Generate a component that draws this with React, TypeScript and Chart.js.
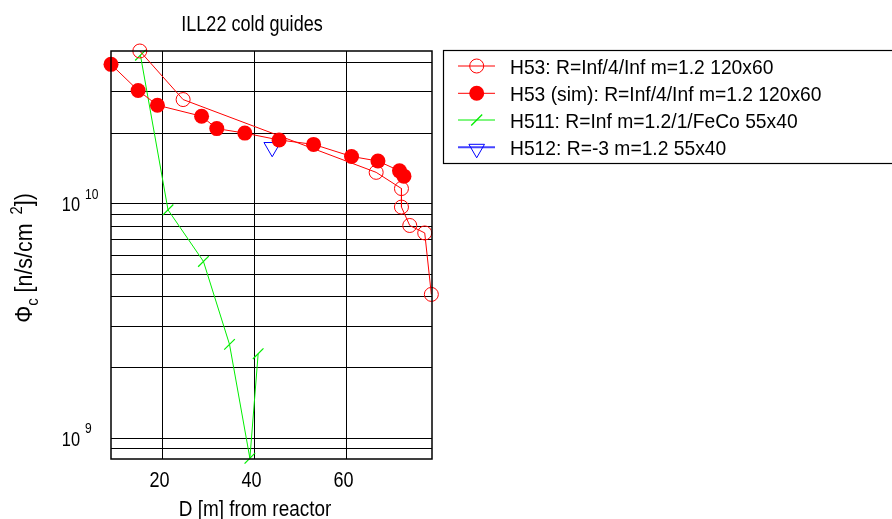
import React, { useEffect, useRef } from "react";
import { Chart, registerables } from "chart.js";

Chart.register(...registerables);

const titleText = "ILL22 cold guides";
const xTitle = "D [m] from reactor";
const legendLabels = [
  "H53: R=Inf/4/Inf m=1.2 120x60",
  "H53 (sim): R=Inf/4/Inf m=1.2 120x60",
  "H511: R=Inf m=1.2/1/FeCo 55x40",
  "H512: R=-3 m=1.2 55x40",
];

const xOpen = [15.07, 24.48, 66.46, 71.96, 71.96, 73.76, 77.02, 78.46];
const yOpen = [4.48e10, 2.78e10, 1.36e10, 1.16e10, 9.67e9, 8.07e9, 7.5e9, 4.1e9];

const xSim = [8.8, 14.7, 18.9, 28.5, 31.8, 37.9, 45.35, 52.85, 61.1, 66.85, 71.53, 72.5];
const ySim = [3.93e10, 3.04e10, 2.63e10, 2.36e10, 2.09e10, 2.0e10, 1.87e10, 1.79e10, 1.59e10, 1.52e10, 1.38e10, 1.31e10];

const xH511 = [15.2, 21.2, 28.9, 34.57, 39.0, 40.8];
const yH511 = [4.3e10, 9.41e9, 5.67e9, 2.51e9, 8.2e8, 2.29e9];

const xH512 = [43.85];
const yH512 = [1.74e10];

const xTicks = [20, 40, 60];
const yGridValues = [9e8, 1e9, 2e9, 3e9, 4e9, 5e9, 6e9, 7e9, 8e9, 9e9, 1e10, 2e10, 3e10, 4e10];
const yLabelValues = [1e9, 1e10];
const yLabelExponents = ["9", "10"];

const X_MIN = 8.8;
const X_MAX = 78.6;
const Y_MIN = 8.14e8;
const Y_MAX = 4.48e10;

const FONT = '"Liberation Sans", Arial, sans-serif';

function zip(xs: number[], ys: number[]) {
  return xs.map((x, i) => ({ x, y: ys[i] }));
}

function txt(
  ctx: CanvasRenderingContext2D,
  s: string,
  x: number,
  y: number,
  size: number,
  k: number,
  align: CanvasTextAlign = "left"
) {
  ctx.save();
  ctx.translate(x, y);
  ctx.scale(k, 1);
  ctx.font = `${size}px ${FONT}`;
  ctx.textAlign = align;
  ctx.textBaseline = "alphabetic";
  ctx.fillStyle = "#000";
  ctx.fillText(s, 0, 0);
  ctx.restore();
}

const decorPlugin = {
  id: "decor",
  afterDraw(chart: any) {
    const ctx: CanvasRenderingContext2D = chart.ctx;
    const area = chart.chartArea;
    const xs = chart.scales.x;
    const ys = chart.scales.y;
    ctx.save();
    // plot frame
    ctx.strokeStyle = "#000";
    ctx.lineWidth = 1.5;
    ctx.strokeRect(area.left, area.top, area.right - area.left, area.bottom - area.top);

    // title
    txt(ctx, titleText, 252, 31, 22, 0.82, "center");

    // x tick labels
    xTicks.forEach((v) => {
      txt(ctx, String(v), xs.getPixelForValue(v) - 3, 487, 22, 0.82, "center");
    });
    // x title
    txt(ctx, xTitle, 255, 516, 22, 0.86, "center");

    // y tick labels
    yLabelValues.forEach((v, i) => {
      const py = ys.getPixelForValue(v);
      txt(ctx, "10", 80, py + 7.5, 21, 0.78, "right");
      txt(ctx, yLabelExponents[i], 85, py - 5, 14, 0.86, "left");
    });

    // y title (rotated)
    ctx.save();
    ctx.translate(32, 0);
    ctx.rotate(-Math.PI / 2);
    const k = 0.93;
    const big = `23px ${FONT}`;
    const small = `16px ${FONT}`;
    const parts: [string, string, number, number][] = [
      ["\u03A6", big, 0, 0],
      ["c", small, 6, 0],
      [" [n/s/cm", big, 0, 9],
      ["2", small, -10, 0],
      ["])", big, 0, 0],
    ];
    let total = 0;
    const widths = parts.map(([s, f, , gap]) => {
      ctx.font = f;
      const w = ctx.measureText(s).width * k + gap;
      total += w;
      return w;
    });
    let pos = -258 - total / 2;
    ctx.fillStyle = "#000";
    ctx.textBaseline = "alphabetic";
    parts.forEach(([s, f, dy], i) => {
      ctx.save();
      ctx.translate(pos, dy);
      ctx.scale(k, 1);
      ctx.font = f;
      ctx.textAlign = "left";
      ctx.fillText(s, 0, 0);
      ctx.restore();
      pos += widths[i];
    });
    ctx.restore();

    // legend
    const lx = 443.5;
    const ly = 50.5;
    ctx.fillStyle = "#fff";
    ctx.fillRect(lx, ly, 460, 113);
    ctx.strokeStyle = "#000";
    ctx.lineWidth = 1.2;
    ctx.strokeRect(lx, ly, 460, 113);
    const rows = [66, 93.3, 120, 147.3];
    const colors = ["#ff0000", "#ff0000", "#00ee00", "#4444ff"];
    rows.forEach((ry, i) => {
      ctx.strokeStyle = colors[i];
      ctx.lineWidth = i === 3 ? 2 : 1;
      ctx.beginPath();
      ctx.moveTo(458, ry);
      ctx.lineTo(495, ry);
      ctx.stroke();
      const cx = 476.7;
      if (i === 0) {
        ctx.fillStyle = "#fff";
        ctx.beginPath();
        ctx.arc(cx, ry, 7, 0, Math.PI * 2);
        ctx.fill();
        ctx.strokeStyle = "#ff0000";
        ctx.lineWidth = 1;
        ctx.stroke();
        ctx.beginPath();
        ctx.moveTo(cx - 7, ry);
        ctx.lineTo(cx + 7, ry);
        ctx.stroke();
      } else if (i === 1) {
        ctx.fillStyle = "#ff0000";
        ctx.beginPath();
        ctx.arc(cx, ry, 7.5, 0, Math.PI * 2);
        ctx.fill();
      } else if (i === 2) {
        ctx.strokeStyle = "#00ee00";
        ctx.lineWidth = 1.3;
        ctx.beginPath();
        ctx.moveTo(cx - 5.5, ry + 5.5);
        ctx.lineTo(cx + 5.5, ry - 5.5);
        ctx.stroke();
      } else {
        ctx.strokeStyle = "#0000ff";
        ctx.lineWidth = 1;
        const r = 9;
        const cy = ry + 1.5;
        ctx.beginPath();
        ctx.moveTo(cx - r * 0.866, cy - r / 2);
        ctx.lineTo(cx + r * 0.866, cy - r / 2);
        ctx.lineTo(cx, cy + r);
        ctx.closePath();
        ctx.stroke();
      }
      txt(ctx, legendLabels[i], 510, ry + 7.5, 21, 0.917, "left");
    });
    ctx.restore();
  },
};

export default function App() {
  const ref = useRef<HTMLCanvasElement | null>(null);
  useEffect(() => {
    if (!ref.current) return;
    const chart = new Chart(ref.current, {
      type: "scatter",
      data: {
        datasets: [
          {
            label: legendLabels[0],
            data: zip(xOpen, yOpen),
            showLine: true,
            borderColor: "#ff0000",
            backgroundColor: "rgba(0,0,0,0)",
            borderWidth: 1,
            pointStyle: "circle",
            pointRadius: 7,
            pointBorderWidth: 1,
            pointBorderColor: "#ff0000",
            pointBackgroundColor: "rgba(0,0,0,0)",
            clip: false,
            order: 1,
          },
          {
            label: legendLabels[1],
            data: zip(xSim, ySim),
            showLine: true,
            borderColor: "#ff0000",
            backgroundColor: "#ff0000",
            borderWidth: 1,
            pointStyle: "circle",
            pointRadius: 7.5,
            pointBorderWidth: 0,
            pointBackgroundColor: "#ff0000",
            clip: false,
            order: 0,
          },
          {
            label: legendLabels[2],
            data: zip(xH511, yH511),
            showLine: true,
            borderColor: "#00ee00",
            backgroundColor: "#00ee00",
            borderWidth: 1,
            pointStyle: "line",
            pointRotation: -45,
            pointRadius: 7.5,
            pointBorderWidth: 1.2,
            pointBorderColor: "#00ee00",
            clip: false,
            order: 2,
          },
          {
            label: legendLabels[3],
            data: zip(xH512, yH512),
            showLine: false,
            borderColor: "#0000ff",
            backgroundColor: "rgba(0,0,0,0)",
            borderWidth: 1,
            pointStyle: "triangle",
            pointRotation: 180,
            pointRadius: 9.5,
            pointBorderWidth: 1,
            pointBorderColor: "#0000ff",
            pointBackgroundColor: "rgba(0,0,0,0)",
            clip: false,
            order: 3,
          },
        ],
      },
      options: {
        responsive: false,
        animation: false,
        devicePixelRatio: 1,
        layout: { padding: { left: 111, top: 51, right: 460, bottom: 60 } },
        plugins: {
          legend: { display: false },
          tooltip: { enabled: false },
          title: { display: false },
        },
        scales: {
          x: {
            type: "linear",
            min: X_MIN,
            max: X_MAX,
            afterBuildTicks: (s: any) => {
              s.ticks = xTicks.map((v) => ({ value: v }));
            },
            afterFit: (s: any) => {
              s.height = 0;
            },
            ticks: { display: false },
            grid: { color: "#000", lineWidth: 1, drawTicks: false },
            border: { display: false },
          },
          y: {
            type: "logarithmic",
            min: Y_MIN,
            max: Y_MAX,
            afterBuildTicks: (s: any) => {
              s.ticks = yGridValues.map((v) => ({ value: v }));
            },
            afterFit: (s: any) => {
              s.width = 0;
            },
            ticks: { display: false },
            grid: { color: "#000", lineWidth: 1, drawTicks: false },
            border: { display: false },
          },
        },
      } as any,
      plugins: [decorPlugin],
    });
    return () => chart.destroy();
  }, []);
  return (
    <div style={{ position: "absolute", left: 0, top: 0, width: 892, height: 519, background: "#fff" }}>
      <canvas ref={ref} width={892} height={519} />
    </div>
  );
}
